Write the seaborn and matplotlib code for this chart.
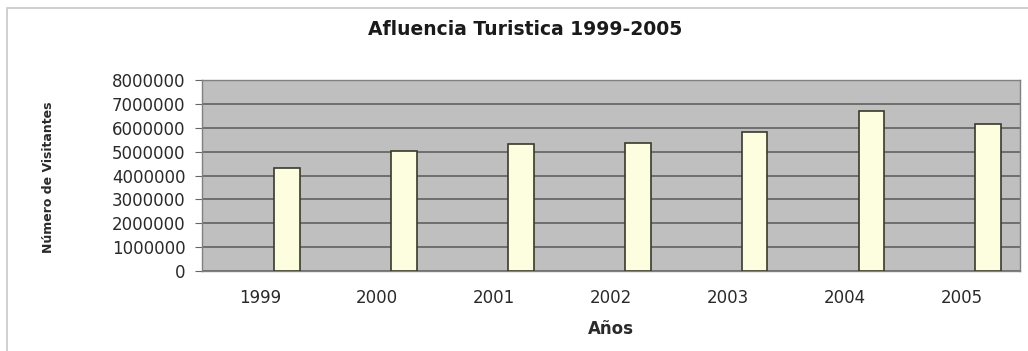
import numpy as np
import pandas as pd
import matplotlib
matplotlib.use('Agg')
import matplotlib.pyplot as plt
import seaborn as sns

anios = ['1999', '2000', '2001', '2002', '2003', '2004', '2005']
visitantes = [4310000, 5030000, 5310000, 5370000, 5830000, 6710000, 6140000]

df = pd.DataFrame({'Años': anios, 'Visitantes': visitantes, 'serie': 'Visitantes'})

sns.set_style('white')
plt.rcParams['font.family'] = ['DejaVu Sans']

fig = plt.figure(figsize=(10.28, 3.51), dpi=100)
ax = fig.add_axes([0.1965, 0.228, 0.7955, 0.544])

# excel-like layout: the bar sits to the right of the category centre (empty first series)
sns.barplot(data=df, x='Años', y='Visitantes', hue='serie', hue_order=['vacio', 'Visitantes'],
            palette={'vacio': '#fdfde0', 'Visitantes': '#fdfde0'}, dodge=True,
            width=0.92, gap=0.52, edgecolor='#3a3a2a', linewidth=1.2, saturation=1,
            ax=ax, legend=False, zorder=3)

ax.set_facecolor('#bfbfbf')
ax.set_xlim(-0.5, len(anios) - 0.5)
ax.set_ylim(0, 8000000)
ax.set_yticks(np.arange(0, 8000001, 1000000))
ax.set_yticklabels([str(v) for v in range(0, 8000001, 1000000)], fontsize=12, color='#2a2a2a')
ax.grid(axis='y', color='#585858', linewidth=1.1, zorder=0)
ax.set_axisbelow(True)
ax.tick_params(axis='x', labelsize=12, colors='#2a2a2a', length=0, pad=13)
ax.tick_params(axis='y', length=5, left=True, color='#666666', pad=7)
for s in ax.spines.values():
    s.set_color('#808080')
    s.set_linewidth(1)

ax.set_xlabel('Años', fontsize=12, fontweight='bold', color='#2a2a2a', labelpad=9)
ax.set_ylabel('Número de Visitantes', fontsize=9, fontweight='bold', color='#2a2a2a')
ax.yaxis.set_label_coords(-0.18, 0.49)

fig.text(0.511, 0.915, 'Afluencia Turistica 1999-2005', ha='center', va='center',
         fontsize=13.5, fontweight='bold', color='#1a1a1a')

# chart frame: only left and top edges fall inside the picture
fig.patches.append(plt.Rectangle((0.007, -0.1), 1.2, 1.077, transform=fig.transFigure,
                                 fill=False, edgecolor='#c8c8c8', linewidth=1.2))

fig.savefig('out.png', dpi=100)
